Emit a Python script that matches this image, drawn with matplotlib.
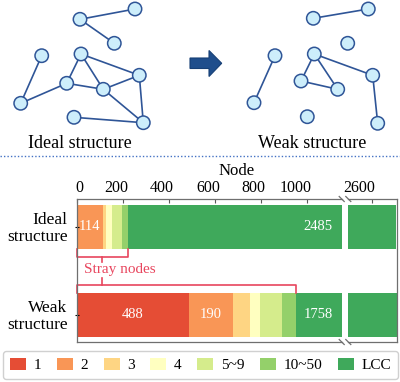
import matplotlib
matplotlib.use("Agg")
import matplotlib.pyplot as plt
import matplotlib.transforms as mtransforms
from matplotlib.patches import Circle, Polygon, Patch

plt.rcParams['font.family'] = ['Liberation Serif', 'DejaVu Serif']

# --- data ---
categories = ["1", "2", "3", "4", "5~9", "10~50", "LCC"]
structures = ["Ideal\nstructure", "Weak\nstructure"]
ideal_counts = [0, 114, 14, 26, 43, 25, 2485]
weak_counts = [488, 190, 77, 42, 97, 58, 1758]
colors = ["#e54d35", "#f99656", "#fed583", "#ffffc0", "#d5ec8c", "#94d06a", "#3fa95b"]
ticks_left = [0, 200, 400, 600, 800, 1000]
ticks_right = [2600]

# network sketches (pixel coords of the figure)
ideal_x = [80, 135, 114.3, 41.7, 81, 139.3, 66.7, 103.3, 20.7, 74, 143.3]
ideal_y = [19.3, 9, 43.3, 55.7, 54, 75.3, 83.3, 89.3, 103.3, 117.3, 122.7]
ideal_edges = [(0, 1), (0, 2), (3, 8), (8, 6), (6, 4), (6, 7), (4, 7), (4, 5),
               (7, 5), (7, 10), (5, 10), (9, 10)]
weak_x = [313.3, 368.3, 347.7, 275, 314.3, 372.7, 301, 337.7, 254, 307.3, 377.7]
weak_y = [18.3, 9, 43.3, 55.7, 54, 75.3, 81, 89.3, 102.7, 116.7, 123.3]
weak_edges = [(0, 1), (3, 8), (6, 4), (4, 7), (6, 7), (4, 5), (5, 10)]

W, H = 400, 382
fig = plt.figure(figsize=(W / 100, H / 100), dpi=100)

# --- top sketch ---
ax0 = fig.add_axes([0, 0, 1, 1])
ax0.set_xlim(0, W)
ax0.set_ylim(H, 0)
ax0.axis("off")

edge_col = "#2f5597"
for xs, ys, edges in [(ideal_x, ideal_y, ideal_edges), (weak_x, weak_y, weak_edges)]:
    for a, b in edges:
        ax0.plot([xs[a], xs[b]], [ys[a], ys[b]], color=edge_col, lw=1.2, zorder=1)
    for x, y in zip(xs, ys):
        ax0.add_patch(Circle((x, y), 6.7, facecolor="#cdeefb", edgecolor=edge_col, lw=1.1, zorder=2))

ax0.add_patch(Polygon([(190, 58), (209, 58), (209, 50.5), (221.7, 63.3), (209, 76.5),
                       (209, 68.5), (190, 68.5)], closed=True,
                      facecolor="#1f4e8c", edgecolor="#163f75", lw=0.8))
ax0.text(80, 143, "Ideal structure", fontsize=13, ha="center", va="center")
ax0.text(312, 143, "Weak structure", fontsize=13, ha="center", va="center")
ax0.plot([0, W], [155.7, 155.7], color="#4472c4", lw=1.0, ls=(0, (1, 1.5)))

# --- bar chart with broken axis ---
bottom = (H - 342) / H
height = 143 / H
axL = fig.add_axes([76.5 / W, bottom, (341.7 - 76.5) / W, height])
axR = fig.add_axes([348.3 / W, bottom, (396.7 - 348.3) / W, height])

for ax in (axL, axR):
    for row, counts in enumerate([ideal_counts, weak_counts]):
        left = 0
        for c, col in zip(counts, colors):
            ax.barh(row, c, left=left, height=0.5, color=col, edgecolor="none")
            left += c
    ax.set_ylim(1.3125, -0.3125)
    ax.xaxis.tick_top()
    ax.tick_params(axis="x", direction="in", length=3, pad=2, labelsize=11.5, colors="#595959",
                   labelcolor="black")
    for s in ax.spines.values():
        s.set_color("#6f6f6f")
        s.set_linewidth(0.9)

axL.set_xlim(0, 1152)
axR.set_xlim(2498, 2709)
axL.set_xticks(ticks_left)
axR.set_xticks(ticks_right)
axL.spines["right"].set_visible(False)
axR.spines["left"].set_visible(False)
axR.set_yticks([])
axL.set_yticks([0, 1])
axL.set_yticklabels(structures, fontsize=12.5, linespacing=1.05)
axL.tick_params(axis="y", direction="inout", length=3, pad=5)

# small horizontal nudges of the hand placed tick labels
shifts = [2.5, -6.5, -6.5, -6.3, -7.4, -11.5]
for lab, dx in zip(axL.get_xticklabels(), shifts):
    lab.set_transform(lab.get_transform() + mtransforms.ScaledTranslation(dx / 100, 0, fig.dpi_scale_trans))
for lab in axR.get_xticklabels():
    lab.set_transform(lab.get_transform() + mtransforms.ScaledTranslation(-12.5 / 100, 0, fig.dpi_scale_trans))

fig.text((76.5 + 396.7) / 2 / W, 1 - 171 / H, "Node", fontsize=12, ha="center", va="center")

# value labels
for row, counts in enumerate([ideal_counts, weak_counts]):
    left = 0
    for i, c in enumerate(counts):
        if categories[i] == "LCC":
            axL.text(1050, row, str(c), color="white", fontsize=10.5, ha="center", va="center")
        elif c >= 100:
            axL.text(left + c / 2, row, str(c), color="white", fontsize=10.5, ha="center", va="center")
        left += c

# break marks
d = 2.5
fig.canvas.draw()
for ax, xa in ((axL, 1), (axR, 0)):
    for ya in (0, 1):
        x0, y0 = ax.transAxes.transform((xa, ya))
        fig.add_artist(plt.Line2D([(x0 - d) / W, (x0 + d) / W], [(y0 + d) / H, (y0 - d) / H],
                                  color="#6f6f6f", lw=0.9, transform=fig.transFigure))

# stray nodes brackets
pink = "#e8465e"
stray_ideal = sum(ideal_counts[:-1])
stray_weak = sum(weak_counts[:-1])
axL.plot([0, 0, stray_ideal, stray_ideal], [0.25, 0.345, 0.345, 0.25], color=pink, lw=1.2, clip_on=False)
axL.plot([stray_ideal / 2, stray_ideal / 2], [0.345, 0.40], color=pink, lw=1.2, clip_on=False)
axL.plot([0, 0, stray_weak, stray_weak], [0.75, 0.669, 0.669, 0.75], color=pink, lw=1.2, clip_on=False)
axL.plot([stray_ideal / 2, stray_ideal / 2], [0.669, 0.589], color=pink, lw=1.2, clip_on=False)
axL.text(190, 0.49, "Stray nodes", color=pink, fontsize=11, ha="center", va="center")

# legend
handles = [Patch(facecolor=c, edgecolor="none") for c in colors]
fig.legend(handles, categories, loc="lower left", ncol=7, mode="expand",
           bbox_to_anchor=(3 / W, 1 - 379 / H, 395 / W, 27.3 / H), fontsize=11,
           handlelength=1.05, handleheight=0.8, handletextpad=0.5, columnspacing=0.9,
           borderpad=0.45, borderaxespad=0, frameon=True, edgecolor="#d0d0d0",
           fancybox=True, framealpha=1)

fig.savefig("out.png", dpi=100)
